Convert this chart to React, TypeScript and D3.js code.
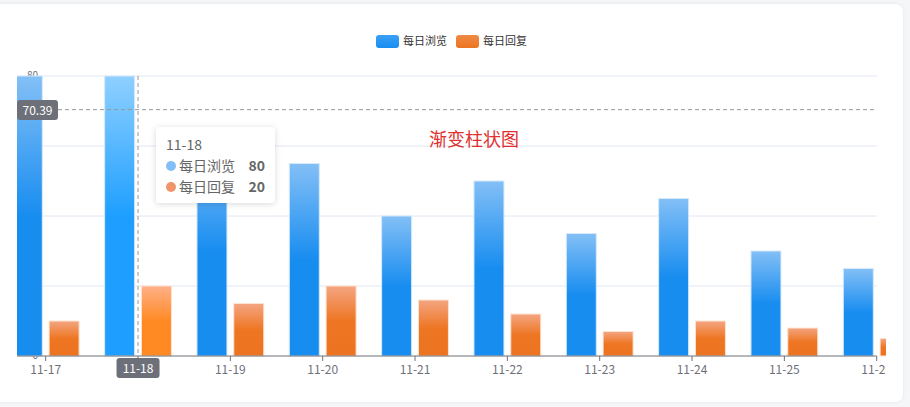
import React from "react";
import * as d3 from "d3";

const categories = ["11-17", "11-18", "11-19", "11-20", "11-21", "11-22", "11-23", "11-24", "11-25", "11-26"];
const views = [80, 80, 60, 55, 40, 50, 35, 45, 30, 25];
const replies = [10, 20, 15, 20, 16, 12, 7, 10, 8, 5];
const yTicks = [0, 20, 40, 60, 80];
const seriesNames = ["每日浏览", "每日回复"];
const pointerValue = 70.39;
const hoverIndex = 1;
const title = "渐变柱状图";

const W = 910;
const H = 407;
const FONT = "'Noto Sans CJK SC', 'Noto Sans', sans-serif";

export default function App() {
  const x = d3.scalePoint<string>().domain(categories).range([45.7, 876.7]);
  const y = d3.scaleLinear().domain([0, 80]).range([356, 76]);
  const clipL = 17;
  const clipR = 886;
  const gridR = 876.7;
  const barW = 30;
  const gap = 3.4;
  const hoverCat = categories[hoverIndex];
  const hx = x(hoverCat)!;
  const py = y(pointerValue);

  return (
    <svg
      width={W}
      height={H}
      style={{ position: "absolute", left: 0, top: 0, fontFamily: FONT }}
    >
      <defs>
        <linearGradient id="gBlue" x1="0" y1="0" x2="0" y2="1">
          <stop offset="0" stopColor="#83bff6" />
          <stop offset="0.5" stopColor="#188df0" />
          <stop offset="1" stopColor="#188df0" />
        </linearGradient>
        <linearGradient id="gBlueH" x1="0" y1="0" x2="0" y2="1">
          <stop offset="0" stopColor="#8fd0ff" />
          <stop offset="0.5" stopColor="#1e9fff" />
          <stop offset="1" stopColor="#1e9fff" />
        </linearGradient>
        <linearGradient id="gOrange" x1="0" y1="0" x2="0" y2="1">
          <stop offset="0" stopColor="#f4a582" />
          <stop offset="0.5" stopColor="#ee7623" />
          <stop offset="1" stopColor="#ec7420" />
        </linearGradient>
        <linearGradient id="gOrangeH" x1="0" y1="0" x2="0" y2="1">
          <stop offset="0" stopColor="#ffb088" />
          <stop offset="0.5" stopColor="#ff8a24" />
          <stop offset="1" stopColor="#ff8a24" />
        </linearGradient>
        <linearGradient id="gLegB" x1="0" y1="0" x2="0" y2="1">
          <stop offset="0" stopColor="#3ba0f5" />
          <stop offset="1" stopColor="#188df0" />
        </linearGradient>
        <linearGradient id="gLegO" x1="0" y1="0" x2="0" y2="1">
          <stop offset="0" stopColor="#f08a45" />
          <stop offset="1" stopColor="#ec7420" />
        </linearGradient>
        <clipPath id="plotClip">
          <rect x={clipL} y={0} width={clipR - clipL} height={H} />
        </clipPath>
        <filter id="shadow" x="-20%" y="-20%" width="140%" height="140%">
          <feDropShadow dx="0" dy="1" stdDeviation="3" floodColor="#000" floodOpacity="0.15" />
        </filter>
        <filter id="cardShadow" x="-5%" y="-5%" width="110%" height="110%">
          <feDropShadow dx="0" dy="0" stdDeviation="1.5" floodColor="#000" floodOpacity="0.08" />
        </filter>
      </defs>

      <rect x={0} y={0} width={W} height={H} fill="#f5f6f8" />
      <rect x={-20} y={4} width={923} height={398} rx={8} fill="#ffffff" filter="url(#cardShadow)" />

      {/* legend */}
      <g fontSize={11} fill="#333">
        <rect x={376} y={35} width={23} height={13} rx={3} fill="url(#gLegB)" />
        <text x={403} y={45}>{seriesNames[0]}</text>
        <rect x={456} y={35} width={23} height={13} rx={3} fill="url(#gLegO)" />
        <text x={483} y={45}>{seriesNames[1]}</text>
      </g>

      <g clipPath="url(#plotClip)">
        {/* grid lines */}
        {yTicks.filter((t) => t !== 0).map((t) => (
          <line key={t} x1={clipL} x2={gridR} y1={y(t)} y2={y(t)} stroke="#e0e6f1" strokeWidth={1} />
        ))}
        {/* y labels (under bars) */}
        {yTicks.map((t) => (
          <text key={"yl" + t} x={38} y={y(t) + 2.5} textAnchor="end" fontSize={10} fill="#6e7079">
            {t}
          </text>
        ))}

        {/* bars */}
        {categories.map((c, i) => {
          const cx = x(c)!;
          const hv = i === hoverIndex;
          return (
            <g key={c}>
              <rect
                x={cx - gap - barW}
                y={y(views[i])}
                width={barW}
                height={y(0) - y(views[i])}
                fill={hv ? "url(#gBlueH)" : "url(#gBlue)"}
                stroke="#d6eafc"
                strokeWidth={1}
              />
              <rect
                x={cx + gap}
                y={y(replies[i])}
                width={barW}
                height={y(0) - y(replies[i])}
                fill={hv ? "url(#gOrangeH)" : "url(#gOrange)"}
                stroke="#fde3d0"
                strokeWidth={1}
              />
            </g>
          );
        })}

        {/* axis pointer lines */}
        <line x1={hx} x2={hx} y1={y(80)} y2={y(0)} stroke="#999" strokeDasharray="4 3" strokeWidth={1} />
        <line x1={58} x2={gridR} y1={py} y2={py} stroke="#999" strokeDasharray="4 3" strokeWidth={1} />

        {/* x axis */}
        <line x1={clipL} x2={gridR} y1={y(0)} y2={y(0)} stroke="#6e7079" strokeWidth={1} />
        {categories.map((c) => (
          <line key={"t" + c} x1={x(c)!} x2={x(c)!} y1={y(0)} y2={y(0) + 5} stroke="#6e7079" />
        ))}
        {categories.map((c, i) =>
          i === hoverIndex ? null : (
            <text key={"xl" + c} x={x(c)!} y={373.5} textAnchor="middle" fontSize={12} fill="#6e7079">
              {c}
            </text>
          )
        )}
      </g>

      {/* x pointer label */}
      <rect x={hx - 21.5} y={358} width={43} height={20} rx={3} fill="#6e7079" />
      <text x={hx} y={372.5} textAnchor="middle" fontSize={12} fill="#fff">
        {hoverCat}
      </text>

      {/* y pointer label */}
      <rect x={17} y={100} width={41} height={20} rx={3} fill="#6e7079" />
      <text x={37.5} y={114.5} textAnchor="middle" fontSize={12} fill="#fff">
        {pointerValue}
      </text>

      {/* title */}
      <text x={429} y={146} fontSize={18} fill="#e0312f">
        {title}
      </text>

      {/* tooltip */}
      <g>
        <rect x={156} y={127} width={119} height={76} rx={4} fill="#fff" filter="url(#shadow)" />
        <text x={166} y={150} fontSize={14} fill="#666">{hoverCat}</text>
        <circle cx={171} cy={166} r={5} fill="#83bff6" />
        <text x={179} y={171} fontSize={14} fill="#666">{seriesNames[0]}</text>
        <text x={265} y={171} fontSize={14} fill="#666" fontWeight="bold" textAnchor="end">
          {views[hoverIndex]}
        </text>
        <circle cx={171} cy={187} r={5} fill="#f0946a" />
        <text x={179} y={192} fontSize={14} fill="#666">{seriesNames[1]}</text>
        <text x={265} y={192} fontSize={14} fill="#666" fontWeight="bold" textAnchor="end">
          {replies[hoverIndex]}
        </text>
      </g>
    </svg>
  );
}
